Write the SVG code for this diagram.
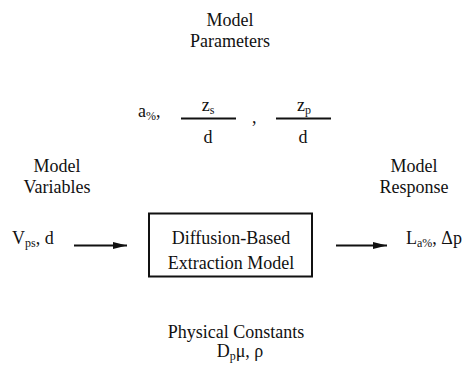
<svg xmlns="http://www.w3.org/2000/svg" width="464" height="369" viewBox="0 0 464 369">
<style>
text{font-family:'Liberation Serif','DejaVu Serif',serif;font-size:18px;fill:#111}
.m{text-anchor:middle}
.sub{font-size:12px}
.ln{stroke:#111;stroke-width:2;fill:none}
</style>
<defs>
<marker id="ah" markerUnits="userSpaceOnUse" markerWidth="16" markerHeight="10" refX="14" refY="4" orient="auto">
<path d="M0,0.5 L14,4 L0,7.5 Z" fill="#111"/>
</marker>
</defs>
<rect width="464" height="369" fill="#fff"/>
<g id="params">
<text class="m" x="230" y="26">Model</text>
<text class="m" x="230" y="47">Parameters</text>
<text x="138" y="117">a<tspan class="sub" dy="3">%</tspan><tspan dy="-3">,</tspan></text>
<text class="m" x="208" y="110.5">z<tspan class="sub" dy="3">s</tspan></text>
<line class="ln" x1="181" y1="118.5" x2="236" y2="118.5"/>
<text class="m" x="208" y="143">d</text>
<text x="252" y="123">,</text>
<text class="m" x="304" y="110.5">z<tspan class="sub" dy="3">p</tspan></text>
<line class="ln" x1="276" y1="118.5" x2="331" y2="118.5"/>
<text class="m" x="303" y="143">d</text>
</g>
<g id="variables">
<text class="m" x="57" y="172">Model</text>
<text class="m" x="57" y="193">Variables</text>
<text x="12" y="244">V<tspan class="sub" dy="3">ps</tspan><tspan dy="-3">, d</tspan></text>
</g>
<g id="model">
<rect x="149" y="213.5" width="163" height="63" fill="none" stroke="#111" stroke-width="2"/>
<text class="m" x="231" y="243.5">Diffusion-Based</text>
<text class="m" x="231" y="268.7">Extraction Model</text>
</g>
<g id="response">
<text class="m" x="414" y="172">Model</text>
<text class="m" x="414" y="193">Response</text>
<text x="406" y="244">L<tspan class="sub" dy="3">a%</tspan><tspan dy="-3">, Δp</tspan></text>
</g>
<g id="constants">
<text class="m" x="236" y="338">Physical Constants</text>
<text class="m" x="240" y="357">D<tspan class="sub" dy="3">p</tspan><tspan dy="-3">μ, ρ</tspan></text>
</g>
<g id="connectors">
<line class="ln" x1="74" y1="245.5" x2="127" y2="245.5" marker-end="url(#ah)"/>
<line class="ln" x1="336" y1="245.5" x2="387" y2="245.5" marker-end="url(#ah)"/>
</g>
</svg>
